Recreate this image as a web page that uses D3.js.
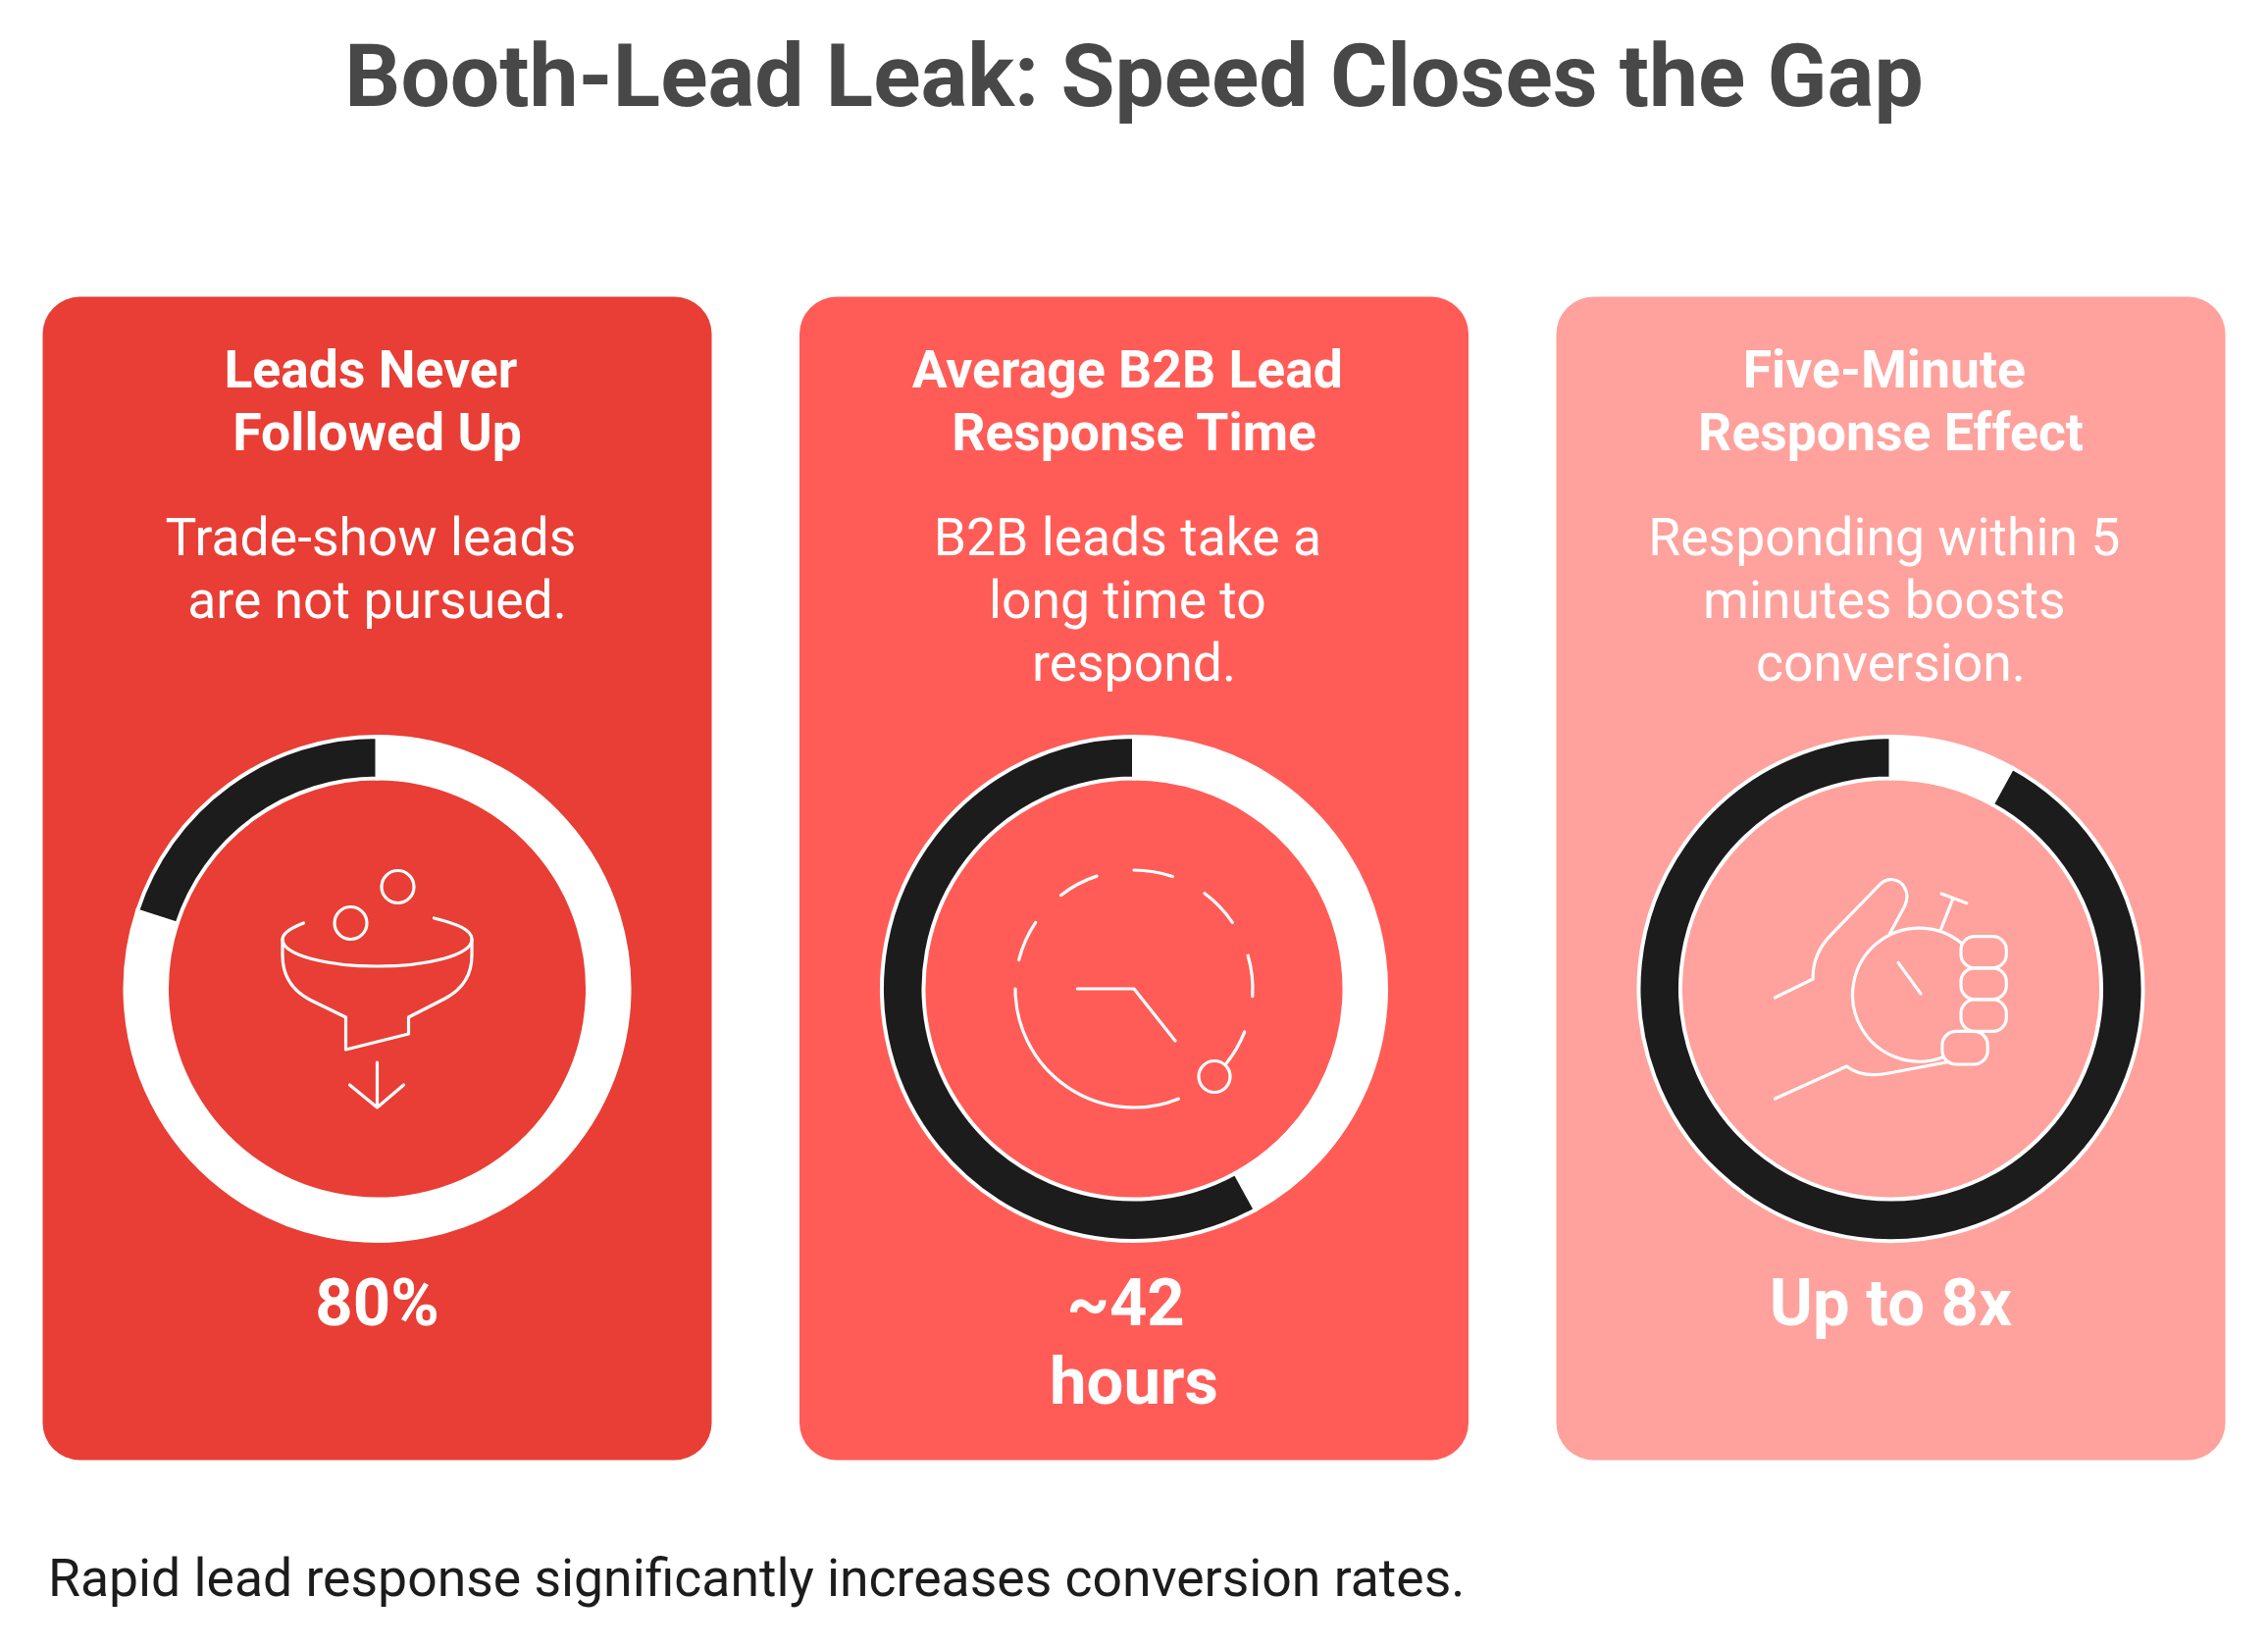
<!DOCTYPE html>
<html>
<head>
<meta charset="utf-8">
<title>Booth-Lead Leak</title>
<script src="https://cdn.jsdelivr.net/npm/d3@7/dist/d3.min.js"></script>
<style>
  html, body { margin: 0; padding: 0; background: #fff; }
  text { font-family: Roboto, sans-serif; white-space: pre; }
</style>
</head>
<body>
<div id="chart"></div>
<script>
// data
const chartTitle = 'Booth-Lead Leak: Speed Closes the Gap'
const footNote = 'Rapid lead response significantly increases conversion rates.'
const cardIds = ['funnel', 'clock', 'hand']
const cardTitles = [
  ['Leads Never ', 'Followed Up'],
  ['Average B2B Lead ', 'Response Time'],
  ['Five-Minute ', 'Response Effect']
]
const cardTexts = [
  ['Trade-show leads ', 'are not pursued.'],
  ['B2B leads take a ', 'long time to ', 'respond.'],
  ['Responding within 5 ', 'minutes boosts ', 'conversion.']
]
const cardValues = [
  ['80%'],
  ['~42 ', 'hours'],
  ['Up to 8x']
]
// share of each ring left white, in percent
const ringShare = [80, 42, 8]
const cardColors = ['#e83e35', '#ff5c57', '#ffa19d']

const width = 2312
const height = 1679
const cardW = 682
const cardGap = 89.5
const cardLeft = 43.5
const cardTop = 302.5
const cardH = 1186
const ringY = 1008 - cardTop

const svg = d3.select('#chart').append('svg')
  .attr('width', width)
  .attr('height', height)
  .style('display', 'block')

svg.append('text')
  .attr('x', 1156)
  .attr('y', 108)
  .attr('text-anchor', 'middle')
  .attr('font-size', 89.4)
  .attr('font-weight', 700)
  .attr('fill', '#484848')
  .text(chartTitle)

const x = d3.scaleBand()
  .domain(cardIds)
  .range([cardLeft, cardLeft + cardW * 3 + cardGap * 2])
  .paddingInner(cardGap / (cardW + cardGap))

const angle = d3.scaleLinear().domain([0, 100]).range([0, Math.PI * 2])
const arc = d3.arc().innerRadius(214.5).outerRadius(257)

const card = svg.selectAll('.card')
  .data(cardIds)
  .enter()
  .append('g')
  .attr('class', 'card')
  .attr('transform', d => 'translate(' + x(d) + ',' + cardTop + ')')

card.append('rect')
  .attr('width', x.bandwidth())
  .attr('height', cardH)
  .attr('rx', 38)
  .attr('fill', (d, i) => cardColors[i])

function textBlock (lines, firstY, lineH, size, weight) {
  card.each(function (d, i) {
    d3.select(this).selectAll(null)
      .data(lines[i])
      .enter()
      .append('text')
      .attr('x', x.bandwidth() / 2)
      .attr('y', (t, j) => firstY + j * lineH)
      .attr('text-anchor', 'middle')
      .attr('font-size', size)
      .attr('font-weight', weight)
      .attr('fill', '#fff')
      .text(t => t)
  })
}

textBlock(cardTitles, 395 - cardTop, 64, 53.5, 700)
textBlock(cardTexts, 566 - cardTop, 64, 53.5, 400)
textBlock(cardValues, 1350.5 - cardTop, 80.5, 67, 700)

const ring = card.append('g')
  .attr('transform', 'translate(' + x.bandwidth() / 2 + ',' + ringY + ')')

ring.append('path')
  .attr('d', (d, i) => arc({ startAngle: 0, endAngle: angle(ringShare[i]) }))
  .attr('fill', '#fff')
  .attr('stroke', '#fff')
  .attr('stroke-width', 4)

ring.append('path')
  .attr('d', (d, i) => arc({ startAngle: angle(ringShare[i]), endAngle: angle(100) }))
  .attr('fill', '#1c1c1c')
  .attr('stroke', '#fff')
  .attr('stroke-width', 4)

// line icons, drawn around the ring centre
const icon = ring.append('g')
  .attr('fill', 'none')
  .attr('stroke', '#fff')
  .attr('stroke-width', 3.2)
  .attr('stroke-linecap', 'round')
  .attr('stroke-linejoin', 'round')

function addPaths (sel, list) {
  list.forEach(d => sel.append('path').attr('d', d))
}

function addCircles (sel, list) {
  list.forEach(c => sel.append('circle').attr('cx', c[0]).attr('cy', c[1]).attr('r', c[2]))
}

const funnel = icon.filter(d => d === 'funnel')
addCircles(funnel, [[21, -104, 16.5], [-27, -67, 16.5]])
addPaths(funnel, [
  'M-75,-67C-88,-62 -96.5,-57 -96.5,-50.5C-96.5,-34 -50,-23 0,-23C50,-23 96.5,-34 96.5,-50.5C96.5,-60 82,-66 58,-72',
  'M-96.5,-50.5V-34C-96.5,-12 -85,3 -67,12L-32,29V62L32,46V29L69,10C86,1 96.5,-14 96.5,-34V-50.5',
  'M0,75V121M-28,98L0,121L27,98'
])

const clock = icon.filter(d => d === 'clock')
const clockArc = d3.arc().innerRadius(121).outerRadius(121)
const clockDashes = [[158, 270], [284, 304], [322, 341.7], [0, 19], [36.5, 56], [73.8, 93.6], [111.3, 129.2]]
addPaths(clock, clockDashes.map(a => clockArc({
  startAngle: a[0] * Math.PI / 180,
  endAngle: a[1] * Math.PI / 180
})))
addPaths(clock, ['M-57.7,0H0L42,53'])
addCircles(clock, [[82, 89.5, 16]])

const hand = icon.filter(d => d === 'hand')
addPaths(hand, [
  'M-118,9L-79.3,-10C-80,-28 -73,-43 -60,-56L-11.5,-106C-4,-114 9,-113 14,-103C18,-97 17,-91 14,-84L-1.2,-56',
  'M72.7,-46A68,68 0 1 0 52.4,70',
  'M51,-60.5L63,-91M51.6,-97L77.3,-87.3',
  'M7.6,-26.6L30.5,5',
  'M-118,112L-45,79C-35,87 -22,90 -2,86L59,74.5'
])
const fingers = [[71.5, -53.4, 46.3, 32.2], [71.5, -21.2, 46.3, 32], [71.5, 11, 46.3, 32.4], [52.4, 43.4, 46.3, 33.6]]
fingers.forEach(f => hand.append('rect')
  .attr('x', f[0]).attr('y', f[1])
  .attr('width', f[2]).attr('height', f[3])
  .attr('rx', 14))

svg.append('text')
  .attr('x', 49)
  .attr('y', 1627)
  .attr('font-size', 53.5)
  .attr('fill', '#1c1c1c')
  .text(footNote)
</script>
</body>
</html>
